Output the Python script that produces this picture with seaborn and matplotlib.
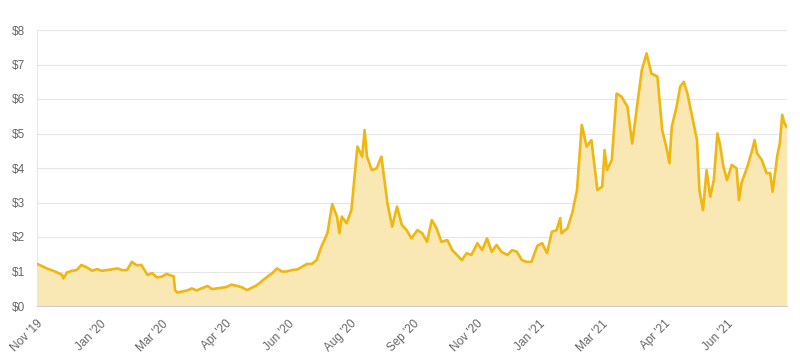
import matplotlib

matplotlib.use("Agg")
import matplotlib.pyplot as plt
import numpy as np
import pandas as pd
import seaborn as sns

# days since 1 Nov 2019, price in USD
days = [
    0, 4, 8, 12, 17, 21, 22, 25, 29, 33, 37, 42, 46, 50, 54, 58, 62, 67, 71, 75,
    79, 83, 87, 92, 96, 100, 104, 108, 112, 114, 115, 117, 121, 125, 129, 133, 137, 142, 146, 150,
    154, 158, 162, 167, 171, 175, 179, 183, 187, 192, 196, 200, 204, 208, 212, 217, 221, 225, 229, 233,
    237, 242, 246, 250, 252, 254, 258, 262, 267, 271, 273, 275, 279, 283, 287, 292, 296, 300, 304, 308,
    312, 317, 321, 325, 329, 333, 337, 342, 346, 350, 354, 358, 362, 367, 371, 375, 379, 383, 387, 392,
    396, 400, 404, 408, 412, 417, 421, 425, 429, 433, 436, 437, 442, 446, 450, 454, 458, 462, 467, 471,
    473, 475, 479, 483, 487, 492, 496, 500, 504, 508, 512, 517, 521, 525, 527, 529, 533, 536, 539, 542,
    546, 550, 552, 555, 558, 561, 564, 567, 569, 572, 575, 579, 583, 585, 587, 592, 596, 598, 600, 604,
    608, 611, 613, 617, 619, 621, 623, 625,
]
price = [
    1.22, 1.16, 1.09, 1.04, 0.97, 0.90, 0.80, 0.97, 1.02, 1.04, 1.19, 1.11, 1.02, 1.07, 1.02, 1.04, 1.06, 1.09, 1.04, 1.04,
    1.28, 1.18, 1.19, 0.90, 0.95, 0.83, 0.85, 0.93, 0.88, 0.86, 0.46, 0.39, 0.42, 0.45, 0.51, 0.45, 0.51, 0.58, 0.49, 0.51,
    0.53, 0.55, 0.62, 0.58, 0.54, 0.46, 0.53, 0.60, 0.71, 0.85, 0.95, 1.09, 1.00, 1.00, 1.04, 1.06, 1.14, 1.22, 1.22, 1.33,
    1.72, 2.11, 2.95, 2.59, 2.11, 2.59, 2.40, 2.78, 4.62, 4.33, 5.10, 4.33, 3.94, 3.99, 4.33, 2.98, 2.30, 2.88, 2.35, 2.20,
    1.96, 2.20, 2.11, 1.86, 2.49, 2.25, 1.86, 1.91, 1.62, 1.48, 1.33, 1.53, 1.48, 1.82, 1.62, 1.96, 1.57, 1.77, 1.57, 1.48,
    1.62, 1.57, 1.33, 1.28, 1.28, 1.75, 1.82, 1.53, 2.15, 2.20, 2.55, 2.11, 2.25, 2.69, 3.36, 5.25, 4.62, 4.81, 3.36, 3.46,
    4.52, 3.94, 4.23, 6.16, 6.07, 5.78, 4.71, 5.78, 6.84, 7.32, 6.74, 6.65, 5.10, 4.52, 4.14, 5.20, 5.78, 6.36, 6.50, 6.16,
    5.49, 4.81, 3.36, 2.78, 3.94, 3.17, 3.65, 5.00, 4.71, 4.04, 3.65, 4.09, 3.99, 3.07, 3.56, 4.04, 4.52, 4.81, 4.43, 4.23,
    3.85, 3.85, 3.31, 4.38, 4.71, 5.54, 5.29, 5.18,
]
tick_labels = [
    "Nov '19", "Jan '20", "Mar '20", "Apr '20", "Jun '20", "Aug '20",
    "Sep '20", "Nov '20", "Jan '21", "Mar '21", "Apr '21", "Jun '21",
]
y_ticks = [0, 1, 2, 3, 4, 5, 6, 7, 8]

LINE = "#EFB70F"
FILL = "#FAE8B4"
GRID = "#E6E6E6"
TEXT = "#666666"

sns.set_theme(style="white")
plt.rcParams["font.family"] = ["Liberation Sans", "DejaVu Sans"]

frame = pd.DataFrame({"day": days, "price": price})

fig = plt.figure(figsize=(8, 3.56), dpi=100)
ax = fig.add_axes([37 / 800, 1 - 306 / 356, 750 / 800, 276 / 356])

ax.fill_between(frame["day"], frame["price"], 0, color=FILL, linewidth=0, zorder=1)
sns.lineplot(data=frame, x="day", y="price", color=LINE, linewidth=1.9, ax=ax, zorder=3)

ax.set_xlim(0, days[-1])
ax.set_ylim(0, 8)
ax.set_yticks(y_ticks)
ax.set_yticklabels([f"${v}" for v in y_ticks])
ax.set_xticks(np.arange(len(tick_labels)) * 52.3)
ax.set_xticklabels(tick_labels, rotation=45, ha="right", rotation_mode="anchor")
ax.tick_params(axis="both", labelsize=8.5, colors=TEXT, length=5, width=0.8)
ax.tick_params(axis="both", color=GRID)
ax.grid(axis="y", color=GRID, linewidth=0.8, zorder=0)
ax.set_axisbelow(True)
ax.set_xlabel("")
ax.set_ylabel("")

for side in ["top", "right"]:
    ax.spines[side].set_visible(False)
ax.spines["left"].set_color(GRID)
ax.spines["bottom"].set_color("#CCCCCC")
ax.spines["left"].set_linewidth(0.8)
ax.spines["bottom"].set_linewidth(0.8)

fig.savefig("out.png", dpi=100)
